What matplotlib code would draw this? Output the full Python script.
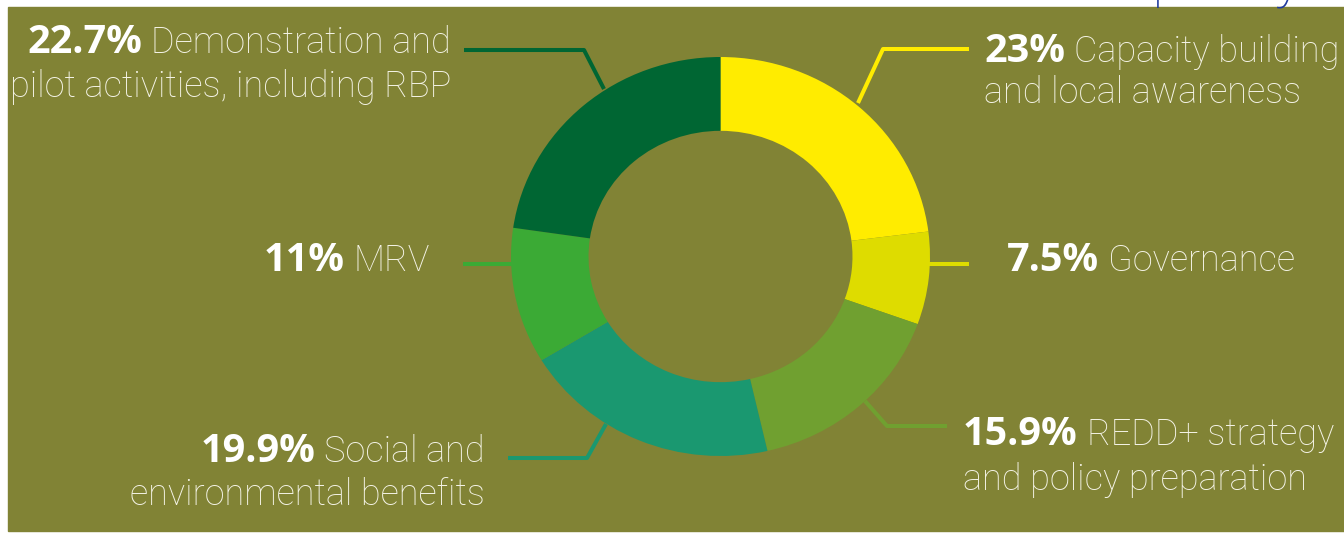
import matplotlib.pyplot as plt
from matplotlib import font_manager
from matplotlib.patches import Rectangle

# data (clockwise from 12 o'clock)
shares = [23, 7.5, 15.9, 19.9, 11, 22.7]
pct_labels = ["23%", "7.5%", "15.9%", "19.9%", "11%", "22.7%"]
names = [
    ["Capacity building", "and local awareness"],
    ["Governance"],
    ["REDD+ strategy", "and policy preparation"],
    ["Social and", "environmental benefits"],
    ["MRV"],
    ["Demonstration and", "pilot activities, including RBP"],
]
colors = ["#FFEC00", "#DEDC00", "#70A030", "#1A9870", "#3BAA35", "#006633"]

# layout in pixels (x from left, y from top)
W, H = 1344, 541
BG = "#818335"
label_pos = [
    ("left", 984, [62, 103]),
    ("left", 1007, [271]),
    ("left", 963, [445, 490]),
    ("right", 485, [462, 505]),
    ("right", 430, [271]),
    ("right", 451, [53, 97]),
]
leaders = [
    [(858, 103), (883, 49), (969, 49)],
    [(925, 264), (969, 264)],
    [(865, 401), (887, 426), (947, 426)],
    [(606, 424), (587, 458), (508, 458)],
    [(515, 264), (463, 264)],
    [(604, 89), (584, 50), (464, 50)],
]


def pick_light():
    for fam in ["Roboto", "Lato", "Open Sans", "Noto Sans"]:
        for f in font_manager.fontManager.ttflist:
            if f.name == fam and isinstance(f.weight, int) and f.weight <= 300:
                return fam
    return "DejaVu Sans"


light_fam = pick_light()
bold_fam = "Open Sans"

fig = plt.figure(figsize=(W / 100, H / 100), dpi=100)
fig.patch.set_facecolor("white")
ax = fig.add_axes([0, 0, 1, 1])
ax.set_xlim(0, W)
ax.set_ylim(H, 0)
ax.axis("off")
ax.add_patch(Rectangle((8, 7), W - 8, 524, color=BG, zorder=0))

# bits of blue heading text cut off at the top edge
ax.text(1152, -5, "policy", color="#1F3A9E", fontsize=44, family=light_fam,
        weight="light", ha="left", va="baseline")

# leader lines
for pts, c in zip(leaders, colors):
    xs, ys = zip(*pts)
    ax.plot(xs, ys, color=c, lw=2.9, solid_capstyle="butt", zorder=1)

# donut (slightly wider than tall, as in the picture)
pax = fig.add_axes([511 / W, 1 - 456 / H, 419 / W, 399 / H])
pax.pie(shares, colors=colors, startangle=90, counterclock=False,
        wedgeprops=dict(width=0.37, linewidth=0))
pax.set_aspect("auto")
pax.set_xlim(-1, 1)
pax.set_ylim(-1, 1)
pax.axis("off")

renderer = fig.canvas.get_renderer()
inv = ax.transData.inverted()
light_kw = dict(color="#F4F3E6", fontsize=26, family=light_fam, weight="light",
                va="baseline")
bold_kw = dict(color="white", fontsize=28.5, family=bold_fam, weight="bold",
               va="baseline")
gap = 9

for (side, x, ys), pct, lines in zip(label_pos, pct_labels, names):
    for i, (y, line) in enumerate(zip(ys, lines)):
        if i > 0:
            ax.text(x, y, line, ha=side, **light_kw)
            continue
        if side == "left":
            t = ax.text(x, y, pct, ha="left", **bold_kw)
            bb = t.get_window_extent(renderer)
            x2 = inv.transform((bb.x1, 0))[0] + gap
            ax.text(x2, y, line, ha="left", **light_kw)
        else:
            t = ax.text(x, y, line, ha="right", **light_kw)
            bb = t.get_window_extent(renderer)
            x2 = inv.transform((bb.x0, 0))[0] - gap
            ax.text(x2, y, pct, ha="right", **bold_kw)

fig.savefig("out.png", dpi=100, facecolor=fig.get_facecolor())
